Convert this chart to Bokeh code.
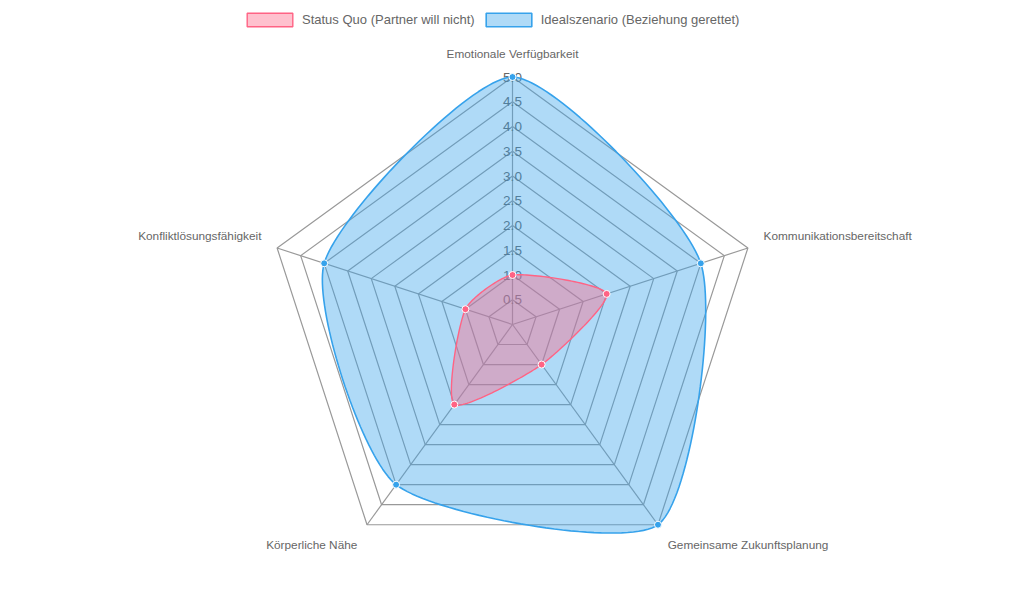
import numpy as np
from bokeh.plotting import figure
from bokeh.models import Range1d, Legend, LegendItem
from bokeh.core.properties import value
from bokeh.embed import file_html
from bokeh.resources import INLINE

# ---------- data ----------
categories = [
    "Emotionale Verfügbarkeit",
    "Kommunikationsbereitschaft",
    "Gemeinsame Zukunftsplanung",
    "Körperliche Nähe",
    "Konfliktlösungsfähigkeit",
]
status_quo = [1, 2, 1, 2, 1]
idealszenario = [5, 4, 5, 4, 4]
series_names = ["Status Quo (Partner will nicht)", "Idealszenario (Beziehung gerettet)"]
tick_values = [0.5, 1.0, 1.5, 2.0, 2.5, 3.0, 3.5, 4.0, 4.5, 5.0]
tick_labels = ["0.5", "1.0", "1.5", "2.0", "2.5", "3.0", "3.5", "4.0", "4.5", "5.0"]
scale_max = 5.0

# ---------- geometry helpers ----------
R = 247.5          # radius of the outer ring, in px
n = len(categories)
ang = np.pi / 2 - 2 * np.pi * np.arange(n) / n
FONT = "Liberation Sans"


def polar(vals):
    r = np.asarray(vals, float) / scale_max * R
    return r * np.cos(ang), r * np.sin(ang)


def smooth_loop(xs, ys, tension=0.22, steps=40):
    # chart.js style spline through a closed set of points
    pts = np.column_stack([xs, ys])
    prev_cp, next_cp = [], []
    for i in range(n):
        p0, p1, p2 = pts[i - 1], pts[i], pts[(i + 1) % n]
        d01 = np.hypot(*(p1 - p0))
        d12 = np.hypot(*(p2 - p1))
        s01 = d01 / (d01 + d12)
        s12 = d12 / (d01 + d12)
        prev_cp.append(p1 - tension * s01 * (p2 - p0))
        next_cp.append(p1 + tension * s12 * (p2 - p0))
    t = np.linspace(0, 1, steps, endpoint=False)[:, None]
    out = []
    for i in range(n):
        a, b = pts[i], pts[(i + 1) % n]
        c1, c2 = next_cp[i], prev_cp[(i + 1) % n]
        out.append((1 - t) ** 3 * a + 3 * (1 - t) ** 2 * t * c1 + 3 * (1 - t) * t ** 2 * c2 + t ** 3 * b)
    out = np.vstack(out)
    return out[:, 0], out[:, 1]


# ---------- figure ----------
p = figure(width=1008, height=577, x_range=Range1d(-512, 496), y_range=Range1d(-253, 324),
           output_backend="svg", toolbar_location=None, min_border=0)
p.axis.visible = False
p.grid.visible = False
p.outline_line_color = None

# grid rings and angle lines
ring_xs, ring_ys = [], []
for tv in tick_values:
    rx, ry = polar([tv] * n)
    ring_xs.append(list(rx) + [rx[0]])
    ring_ys.append(list(ry) + [ry[0]])
p.multi_line(ring_xs, ring_ys, line_color="#999999", line_width=1.2)
ox, oy = polar([scale_max] * n)
p.segment(x0=0, y0=0, x1=ox, y1=oy, line_color="#999999", line_width=1.2)

# tick labels (under the datasets, like chart.js)
p.text(x=[0] * len(tick_values), y=[v / scale_max * R for v in tick_values], text=tick_labels,
       text_align="center", text_baseline="middle", text_color="#666666",
       text_font=value(FONT), text_font_size="13.5px")

# point labels
lx, ly = polar([scale_max] * n)
lx, ly = lx * (R + 16.5) / R, ly * (R + 16.5) / R
for x, y, txt in zip(lx, ly, categories):
    a = "center" if abs(x) < 1 else ("left" if x > 0 else "right")
    b = "bottom" if y >= 0 else "top"
    p.text(x=[x], y=[y], text=[txt], text_align=a, text_baseline=b, text_color="#666666",
           text_font=value(FONT), text_font_size="11.8px")

# datasets: chart.js draws the last dataset first
blue = (54, 162, 235)
pink = (255, 99, 132)

bx, by = polar(idealszenario)
sx, sy = smooth_loop(bx, by)
r_ideal = p.patch(sx, sy, fill_color=blue, fill_alpha=0.4, line_color=blue, line_width=1.6)
p.scatter(bx, by, size=7, fill_color=blue, line_color="white", line_width=1)

qx, qy = polar(status_quo)
sx, sy = smooth_loop(qx, qy)
r_status = p.patch(sx, sy, fill_color=pink, fill_alpha=0.4, line_color=pink, line_width=1.4)
p.scatter(qx, qy, size=7, fill_color=pink, line_color="white", line_width=1)

legend = Legend(items=[LegendItem(label=series_names[0], renderers=[r_status]),
                       LegendItem(label=series_names[1], renderers=[r_ideal])],
                orientation="horizontal", location=(241, 549),
                glyph_width=57, glyph_height=17, label_height=17, label_standoff=4, spacing=5,
                padding=0, margin=0, border_line_alpha=0, background_fill_alpha=0,
                label_text_font=FONT, label_text_font_size="13px", label_text_color="#666666")
p.add_layout(legend)

open("out.html", "w").write(file_html(p, INLINE, title="Radar"))
